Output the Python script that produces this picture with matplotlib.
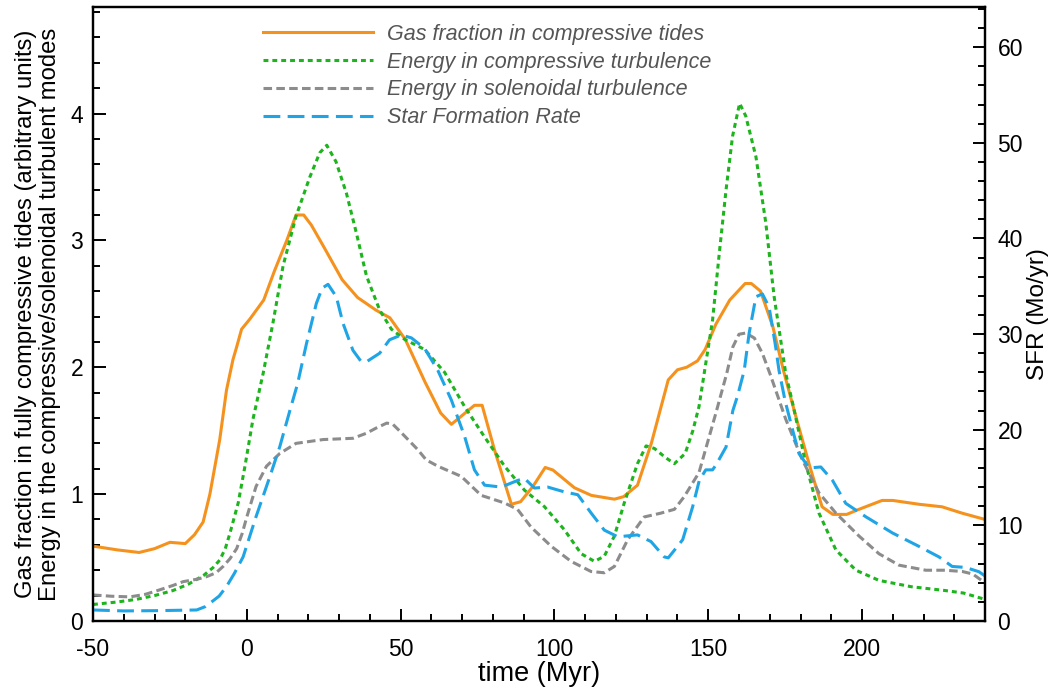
import matplotlib
matplotlib.use("Agg")
import matplotlib.pyplot as plt
from matplotlib.ticker import MultipleLocator

plt.rcParams['font.family'] = ['Liberation Sans', 'DejaVu Sans']
plt.rcParams['axes.unicode_minus'] = False

# gas fraction in compressive tides (left axis)
t_gas = [-50, -42, -35, -30, -25, -20, -17, -14.2, -12, -8.8, -6.6, -4.5, -3.3, -1.7, 1,
         5.5, 9, 13, 16, 18.5, 21, 25, 31, 36, 42, 46.5, 51.5, 58, 63, 66.5, 71, 74, 76.5,
         80.5, 86, 89, 93, 97, 99.5, 106.5, 112, 119.5, 122.5, 127, 131.5, 137, 140, 143,
         146.5, 149, 152.5, 157, 162, 164, 167, 171, 174.5, 178.5, 183, 187, 190.5, 195,
         199, 206.5, 210, 218.5, 226, 232.5, 240]
gas = [0.59, 0.56, 0.54, 0.57, 0.62, 0.61, 0.68, 0.78, 1.0, 1.43, 1.82, 2.06, 2.16, 2.30, 2.38,
       2.53, 2.76, 3.00, 3.20, 3.20, 3.12, 2.95, 2.69, 2.55, 2.45, 2.39, 2.22, 1.88, 1.64, 1.55,
       1.64, 1.70, 1.70, 1.35, 0.92, 0.94, 1.06, 1.21, 1.19, 1.05, 0.99, 0.96, 0.98, 1.07, 1.40,
       1.90, 1.98, 2.00, 2.05, 2.14, 2.34, 2.53, 2.66, 2.66, 2.60, 2.32, 1.97, 1.61, 1.22, 0.90,
       0.84, 0.84, 0.88, 0.95, 0.95, 0.92, 0.90, 0.85, 0.80]

# energy in compressive turbulence (left axis)
t_comp = [-50, -42, -36, -30, -24, -19, -14, -11, -8.8, -7, -5.5, -2.8, -0.6, 2, 5.3, 8.5,
          11.8, 16, 20.5, 23.7, 26, 29, 32.4, 35.6, 38.9, 43.2, 47, 51.3, 57.8, 64.3, 70.8,
          77.3, 83.8, 90.3, 96.8, 103.2, 108.7, 113, 116.2, 119.5, 122.7, 127, 129.8, 132.5,
          136, 139, 142.5, 145, 147, 149, 151.4, 153.6, 155.8, 157.9, 160.2, 162.2, 165.5,
          168.7, 171.4, 175.2, 177.4, 181.7, 186, 191.5, 198, 205.5, 216, 227, 233, 240]
comp = [0.13, 0.15, 0.17, 0.20, 0.24, 0.29, 0.36, 0.42, 0.48, 0.57, 0.69, 0.93, 1.22, 1.59,
        1.95, 2.35, 2.80, 3.19, 3.50, 3.69, 3.75, 3.62, 3.37, 3.06, 2.72, 2.45, 2.30, 2.22,
        2.14, 1.96, 1.69, 1.45, 1.22, 1.03, 0.90, 0.72, 0.53, 0.47, 0.51, 0.67, 0.93, 1.24,
        1.38, 1.36, 1.29, 1.24, 1.32, 1.50, 1.69, 2.00, 2.37, 2.90, 3.40, 3.82, 4.08, 3.98,
        3.66, 3.14, 2.56, 1.95, 1.72, 1.24, 0.85, 0.56, 0.40, 0.32, 0.27, 0.24, 0.22, 0.17]

# energy in solenoidal turbulence (left axis)
t_sol = [-50, -44, -38, -33, -29, -24, -20.7, -16, -13, -10, -7.7, -5.5, -3.3, -1.5, 0, 3,
         6.4, 10.7, 16, 24.8, 34.5, 38.9, 42, 45.5, 47.5, 50, 55.6, 58.3, 62.1, 69.7, 76.2,
         83.8, 88, 92.4, 98.9, 105.4, 111.9, 116.2, 119.5, 123.8, 129.2, 134.6, 139, 142.2,
         147, 152.5, 156, 158, 160, 162.2, 165, 167.6, 170.2, 175.2, 180.6, 186, 191.5, 199,
         205.5, 212, 220.7, 227, 232.6, 236, 240]
sol = [0.205, 0.195, 0.19, 0.21, 0.24, 0.28, 0.31, 0.33, 0.35, 0.38, 0.43, 0.49, 0.57, 0.69,
       0.82, 1.06, 1.22, 1.32, 1.40, 1.43, 1.44, 1.48, 1.52, 1.56, 1.55, 1.49, 1.35, 1.27, 1.22,
       1.14, 0.99, 0.93, 0.88, 0.74, 0.59, 0.47, 0.39, 0.38, 0.43, 0.64, 0.82, 0.85, 0.88, 0.98,
       1.17, 1.64, 1.95, 2.16, 2.26, 2.27, 2.23, 2.11, 1.94, 1.59, 1.27, 1.01, 0.85, 0.67, 0.53,
       0.44, 0.40, 0.40, 0.39, 0.37, 0.30]

# star formation rate, Mo/yr (right axis)
t_sfr = [-50, -40, -29, -16.3, -13.5, -12, -9, -6.6, -4, -1.2, 3, 7.5, 10.7, 14, 16.5, 19.4,
         22.6, 24.5, 26.4, 29.1, 31.3, 34.5, 37, 38.9, 43.2, 46.4, 50.2, 53.5, 57.8, 62.1,
         66.5, 70.8, 74, 77.3, 82.7, 88.1, 90.3, 93.5, 97.8, 103.2, 107.6, 111.9, 116.2,
         120.6, 127, 131.4, 135.7, 137, 139, 141.7, 144.9, 147.1, 149.2, 151.4, 152.5, 155.8,
         158, 159.5, 161.7, 163.3, 165.5, 167.6, 169.8, 171.9, 173, 175, 177.4, 179.5, 182.8,
         186.6, 190.4, 194.7, 201.2, 209.9, 218.5, 225, 229.3, 233.6, 238, 240]
sfr = [1.15, 1.05, 1.08, 1.15, 1.5, 1.85, 2.6, 3.6, 5.0, 6.7, 10.9, 15.1, 18.2, 22.0, 24.8,
       29.0, 33.2, 34.8, 35.2, 33.9, 31.1, 28.3, 27.2, 27.1, 28.0, 29.4, 29.9, 29.6, 28.5, 26.2,
       23.1, 19.3, 15.8, 14.2, 14.0, 14.7, 14.9, 13.9, 14.0, 13.5, 13.2, 11.3, 9.5, 8.8, 9.0,
       8.3, 6.7, 6.6, 7.4, 8.5, 11.9, 14.7, 15.8, 15.8, 16.3, 18.2, 22.0, 23.5, 26.2, 30.1,
       33.9, 34.2, 32.8, 28.7, 26.2, 23.0, 20.0, 17.5, 16.0, 16.1, 14.7, 12.3, 10.9, 9.2, 7.8,
       6.7, 5.7, 5.6, 5.15, 4.7]

labels = ["Gas fraction in compressive tides", "Energy in compressive turbulence",
          "Energy in solenoidal turbulence", "Star Formation Rate"]

fig = plt.figure(figsize=(10.52, 6.96), dpi=100)
ax = fig.add_axes([0.0884, 0.1078, 0.848, 0.8822])
ax2 = ax.twinx()

lw = 2.2
l1, = ax.plot(t_gas, gas, color='#F5921E', lw=lw, solid_joinstyle='round')
l2, = ax.plot(t_comp, comp, color='#1DB41D', lw=lw, dashes=(1.6, 1.3))
l3, = ax.plot(t_sol, sol, color='#8C8C8C', lw=lw, dashes=(2.8, 1.4))
l4, = ax2.plot(t_sfr, sfr, color='#1FA5E6', lw=lw, dashes=(5.5, 2.4))

ax.set_xlim(-50, 240)
ax.set_ylim(0, 4.84)
ax2.set_ylim(0, 64.2)

ax.xaxis.set_major_locator(MultipleLocator(50))
ax.xaxis.set_minor_locator(MultipleLocator(10))
ax.yaxis.set_major_locator(MultipleLocator(1))
ax.yaxis.set_minor_locator(MultipleLocator(0.2))
ax2.yaxis.set_major_locator(MultipleLocator(10))
ax2.yaxis.set_minor_locator(MultipleLocator(2))

for a in (ax, ax2):
    for s in a.spines.values():
        s.set_linewidth(1.6)
    a.tick_params(which='both', direction='in', width=1.4, labelsize=16.5, pad=7)
    a.tick_params(which='major', length=9)
    a.tick_params(which='minor', length=5)
ax.tick_params(top=False, right=False, which='both')
ax.tick_params(axis='x', pad=12)
ax2.tick_params(left=False, which='both')
ax2.tick_params(axis='y', pad=9)

ax.set_xlabel("time (Myr)", fontsize=19.5, labelpad=0)
ax.set_ylabel("Gas fraction in fully compressive tides (arbitrary units)\n"
              "Energy in the compressive/solenoidal turbulent modes",
              fontsize=17.2, linespacing=1.12, labelpad=7)
ax2.set_ylabel("SFR (Mo/yr)", fontsize=17.5, labelpad=3)

leg = fig.legend([l1, l2, l3, l4], labels, loc='upper left',
                 bbox_to_anchor=(0.25, 0.966), frameon=False,
                 handlelength=5.1, handletextpad=0.65, labelspacing=0.32,
                 borderpad=0, borderaxespad=0,
                 prop={'style': 'italic', 'size': 15.5})
for txt in leg.get_texts():
    txt.set_color('#555555')

fig.savefig("out.png", dpi=100)
